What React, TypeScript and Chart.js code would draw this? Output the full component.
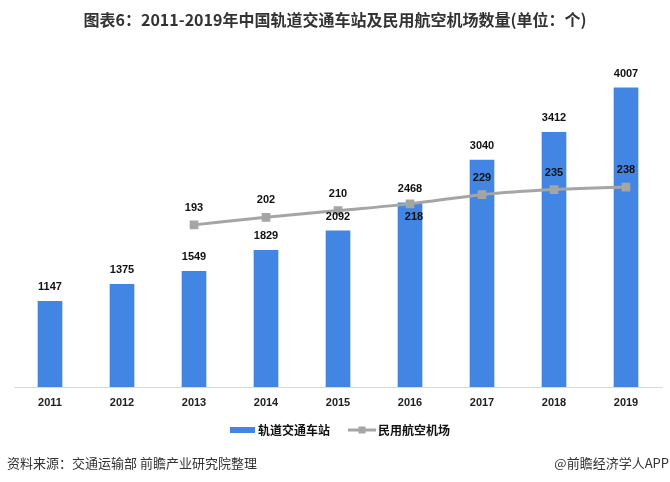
import { useEffect, useRef } from "react";
import { Chart, registerables } from "chart.js";

Chart.register(...registerables);

const years = ["2011", "2012", "2013", "2014", "2015", "2016", "2017", "2018", "2019"];
const stations = [1147, 1375, 1549, 1829, 2092, 2468, 3040, 3412, 4007];
const airports = [null, null, 193, 202, 210, 218, 229, 235, 238];
const airportLabelBelow = [false, false, false, false, false, true, false, false, false];
const seriesNames = ["轨道交通车站", "民用航空机场"];
const titleText = "图表6：2011-2019年中国轨道交通车站及民用航空机场数量(单位：个)";
const sourceText = "资料来源：交通运输部 前瞻产业研究院整理";
const brandText = "@前瞻经济学人APP";

const BAR_COLOR = "#4285E2";
const LINE_COLOR = "#A5A5A5";
const CJK = '"Noto Sans CJK SC", "Noto Sans", sans-serif';
const NUM = '"Liberation Sans", Arial, sans-serif';

const decorPlugin = {
  id: "decor",
  afterDatasetsDraw(chart: any) {
    const ctx = chart.ctx;
    ctx.save();
    ctx.textAlign = "center";
    ctx.textBaseline = "middle";
    ctx.fillStyle = "#111";
    ctx.font = `bold 11px ${NUM}`;
    const barMeta = chart.getDatasetMeta(1);
    barMeta.data.forEach((el: any, i: number) => {
      ctx.fillText(String(stations[i]), el.x, el.y - 14);
    });
    const lineMeta = chart.getDatasetMeta(0);
    lineMeta.data.forEach((el: any, i: number) => {
      const v = airports[i];
      if (v == null) return;
      if (airportLabelBelow[i]) ctx.fillText(String(v), el.x + 4, el.y + 13);
      else ctx.fillText(String(v), el.x, el.y - 17);
    });
    ctx.restore();
  },
  afterDraw(chart: any) {
    const ctx = chart.ctx;
    const w = chart.width;
    ctx.save();
    // title
    ctx.fillStyle = "#333";
    ctx.textAlign = "center";
    ctx.textBaseline = "middle";
    ctx.font = `bold 16px ${CJK}`;
    ctx.fillText(titleText, w / 2 + 0, 20);

    // legend
    const ly = 430;
    ctx.fillStyle = BAR_COLOR;
    ctx.fillRect(230, ly - 3, 25, 6);
    ctx.fillStyle = "#111";
    ctx.textAlign = "left";
    ctx.font = `bold 12px ${CJK}`;
    ctx.fillText(seriesNames[0], 258, ly);
    ctx.strokeStyle = LINE_COLOR;
    ctx.lineWidth = 3;
    ctx.beginPath();
    ctx.moveTo(348, ly);
    ctx.lineTo(376, ly);
    ctx.stroke();
    ctx.fillStyle = LINE_COLOR;
    ctx.fillRect(362 - 3.5, ly - 3.5, 7, 7);
    ctx.fillStyle = "#111";
    ctx.fillText(seriesNames[1], 378, ly);

    // footer
    ctx.fillStyle = "#333";
    ctx.font = `13px ${CJK}`;
    ctx.textAlign = "left";
    ctx.fillText(sourceText, 7, 463);
    ctx.textAlign = "right";
    ctx.fillText(brandText, 669, 463);
    ctx.restore();
  },
};

export default function App() {
  const ref = useRef<HTMLCanvasElement | null>(null);

  useEffect(() => {
    if (!ref.current) return;
    const chart = new Chart(ref.current, {
      type: "bar",
      data: {
        labels: years,
        datasets: [
          {
            type: "line",
            label: seriesNames[1],
            data: airports as any,
            yAxisID: "y1",
            borderColor: LINE_COLOR,
            backgroundColor: LINE_COLOR,
            borderWidth: 3,
            tension: 0.4,
            cubicInterpolationMode: "monotone",
            pointStyle: "rect",
            pointRadius: 4,
            pointBackgroundColor: LINE_COLOR,
            pointBorderColor: LINE_COLOR,
            order: 0,
          } as any,
          {
            type: "bar",
            label: seriesNames[0],
            data: stations,
            yAxisID: "y",
            backgroundColor: BAR_COLOR,
            barThickness: 24,
            order: 1,
          } as any,
        ],
      },
      options: {
        responsive: false,
        animation: false,
        devicePixelRatio: 1,
        layout: { padding: { top: 51, left: 14, right: 8, bottom: 0 } },
        plugins: {
          legend: { display: false },
          title: { display: false },
          tooltip: { enabled: false },
        },
        scales: {
          x: {
            grid: { display: false, drawTicks: false },
            border: { display: true, color: "#D9D9D9", width: 1 },
            ticks: {
              color: "#222",
              font: { family: NUM, size: 11, weight: "bold" },
              padding: 9,
              maxRotation: 0,
            },
            afterFit(scale: any) {
              scale.height = 95;
            },
          },
          y: { display: false, min: 0, max: 4500 },
          y1: { display: false, min: 0, max: 400, position: "right" },
        },
      } as any,
      plugins: [decorPlugin],
    });
    return () => chart.destroy();
  }, []);

  return (
    <div style={{ position: "absolute", left: 0, top: 0, width: 670, height: 482, background: "#fff" }}>
      <canvas ref={ref} width={670} height={482} style={{ display: "block" }} />
    </div>
  );
}
